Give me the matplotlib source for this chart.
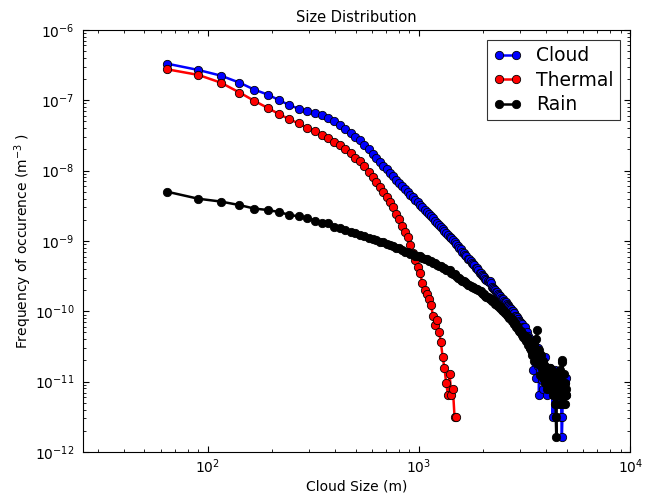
import matplotlib
matplotlib.use('Agg')
import matplotlib.pyplot as plt
import numpy as np

# bin centres of cloud size (m)
sizes = [
    64, 90, 115, 141, 166,
    192, 218, 243, 269, 294,
    320, 346, 371, 397, 422,
    448, 474, 499, 525, 550,
    576, 602, 627, 653, 678,
    704, 730, 755, 781, 806,
    832, 858, 883, 909, 934,
    960, 986, 1011, 1037, 1062,
    1088, 1114, 1139, 1165, 1190,
    1216, 1242, 1267, 1293, 1318,
    1344, 1370, 1395, 1421, 1446,
    1472, 1498, 1523, 1549, 1574,
    1600, 1626, 1651, 1677, 1702,
    1728, 1754, 1779, 1805, 1830,
    1856, 1882, 1907, 1933, 1958,
    1984, 2010, 2035, 2061, 2086,
    2112, 2138, 2163, 2189, 2214,
    2240, 2266, 2291, 2317, 2342,
    2368, 2394, 2419, 2445, 2470,
    2496, 2522, 2547, 2573, 2598,
    2624, 2650, 2675, 2701, 2726,
    2752, 2778, 2803, 2829, 2854,
    2880, 2906, 2931, 2957, 2982,
    3008, 3034, 3059, 3085, 3110,
    3136, 3162, 3187, 3213, 3238,
    3264, 3290, 3315, 3341, 3366,
    3392, 3418, 3443, 3469, 3494,
    3520, 3546, 3571, 3597, 3622,
    3648, 3674, 3699, 3725, 3750,
    3776, 3802, 3827, 3853, 3878,
    3904, 3930, 3955, 3981, 4006,
    4032, 4058, 4083, 4109, 4134,
    4160, 4186, 4211, 4237, 4262,
    4288, 4314, 4339, 4365, 4390,
    4416, 4442, 4467, 4493, 4518,
    4544, 4570, 4595, 4621, 4646,
    4672, 4698, 4723, 4749, 4774,
    4800, 4826, 4851, 4877, 4902,
    4928, 4954, 4979,
]

# log10 of frequency of occurence (m^-3)
cloud_exp = [
    -6.48, -6.57, -6.65, -6.75, -6.85,
    -6.92, -7.00, -7.07, -7.12, -7.15,
    -7.18, -7.21, -7.25, -7.29, -7.35,
    -7.41, -7.46, -7.52, -7.57, -7.64,
    -7.70, -7.76, -7.82, -7.88, -7.93,
    -7.98, -8.03, -8.08, -8.13, -8.17,
    -8.22, -8.26, -8.30, -8.34, -8.38,
    -8.42, -8.45, -8.49, -8.52, -8.56,
    -8.59, -8.62, -8.65, -8.68, -8.71,
    -8.74, -8.77, -8.80, -8.83, -8.86,
    -8.88, -8.91, -8.94, -8.96, -8.99,
    -9.02, -9.04, -9.07, -9.10, -9.12,
    -9.15, -9.17, -9.20, -9.21, -9.25,
    -9.26, -9.28, -9.32, -9.33, -9.34,
    -9.38, -9.39, -9.42, -9.45, -9.45,
    -9.48, -9.50, -9.51, -9.54, -9.56,
    -9.57, -9.59, -9.57, -9.60, -9.65,
    -9.67, -9.68, -9.70, -9.72, -9.73,
    -9.76, -9.77, -9.78, -9.81, -9.82,
    -9.83, -9.85, -9.87, -9.87, -9.90,
    -9.91, -9.93, -9.94, -9.96, -9.97,
    -9.99, -10.00, -10.03, -10.03, -10.06,
    -10.07, -10.08, -10.11, -10.11, -10.14,
    -10.15, -10.16, -10.19, -10.18, -10.22,
    -10.23, -10.27, -10.22, -10.33, -10.30,
    -10.38, -10.35, -10.45, -10.40, -10.52,
    -10.43, -10.58, -10.47, -10.83, -10.55,
    -10.62, -10.50, -10.95, -10.66, -10.60,
    -10.78, -10.52, -11.19, -10.72, -10.85,
    -10.65, -10.98, -10.80, -10.72, -11.10,
    -10.84, -10.90, -10.65, -11.02, -10.89,
    -10.80, -11.19, -10.95, -10.84, -11.10,
    -10.93, -10.80, -11.02, -11.10, -10.89,
    -11.50, -11.02, -10.95, -11.19, -10.84,
    -11.10, -11.50, -11.02, -10.95, -11.19,
    -11.10, -10.89, -11.32, -11.02, -11.19,
    -10.95, -11.10, -11.50, -11.79, -11.50,
    -10.95, -11.19, -11.10, -11.32, -11.02,
    -11.19, -10.95, -11.19,
]

thermal_exp = [
    -6.56, -6.64, -6.75, -6.89, -7.01,
    -7.11, -7.20, -7.27, -7.33, -7.39,
    -7.44, -7.49, -7.54, -7.59, -7.64,
    -7.70, -7.75, -7.82, -7.87, -7.94,
    -8.02, -8.09, -8.16, -8.23, -8.30,
    -8.37, -8.44, -8.52, -8.61, -8.69,
    -8.79, -8.87, -8.94, -9.06, -9.17,
    -9.27, -9.37, -9.46, -9.60, -9.70,
    -9.75, -9.83, -9.91, -10.07, -10.19,
    -10.12, -10.29, -10.43, -10.65, -10.80,
    -11.02, -11.19, -10.89, -11.19, -11.10,
    -11.50, -11.50,
]

rain_exp = [
    -8.30, -8.40, -8.44, -8.49, -8.54,
    -8.56, -8.59, -8.63, -8.65, -8.67,
    -8.71, -8.75, -8.74, -8.80, -8.81,
    -8.85, -8.87, -8.89, -8.92, -8.93,
    -8.96, -8.97, -8.99, -9.01, -9.02,
    -9.04, -9.06, -9.07, -9.10, -9.10,
    -9.13, -9.15, -9.16, -9.18, -9.18,
    -9.21, -9.22, -9.22, -9.24, -9.26,
    -9.26, -9.28, -9.29, -9.31, -9.31,
    -9.34, -9.35, -9.36, -9.38, -9.38,
    -9.41, -9.42, -9.42, -9.45, -9.47,
    -9.47, -9.50, -9.52, -9.53, -9.56,
    -9.57, -9.57, -9.59, -9.60, -9.62,
    -9.62, -9.64, -9.65, -9.65, -9.67,
    -9.68, -9.68, -9.70, -9.71, -9.71,
    -9.74, -9.75, -9.75, -9.78, -9.79,
    -9.79, -9.81, -9.83, -9.82, -9.85,
    -9.86, -9.86, -9.89, -9.89, -9.91,
    -9.92, -9.92, -9.96, -9.96, -9.98,
    -9.99, -9.99, -10.03, -10.02, -10.05,
    -10.06, -10.06, -10.09, -10.10, -10.10,
    -10.14, -10.13, -10.17, -10.18, -10.17,
    -10.22, -10.21, -10.25, -10.24, -10.28,
    -10.29, -10.28, -10.33, -10.32, -10.37,
    -10.33, -10.39, -10.36, -10.42, -10.37,
    -10.48, -10.40, -10.45, -10.52, -10.43,
    -10.55, -10.48, -10.62, -10.50, -10.58,
    -10.70, -10.52, -10.65, -10.40, -10.27,
    -10.60, -10.75, -10.55, -10.68, -10.90,
    -10.62, -10.80, -10.72, -10.95, -10.70,
    -10.85, -10.78, -11.02, -10.80, -10.95,
    -10.89, -11.10, -10.84, -10.95, -11.02,
    -10.80, -11.10, -10.95, -11.02, -10.84,
    -11.19, -10.95, -11.10, -10.89, -11.32,
    -11.02, -11.50, -11.79, -11.19, -10.95,
    -11.10, -10.89, -11.02, -11.19, -10.84,
    -10.95, -11.10, -11.32, -10.72, -10.69,
    -11.02, -11.19, -10.89, -11.10, -11.32,
    -11.02, -11.19, -11.10,
]

x_ticks = [1e2, 1e3, 1e4]


def main():
    plt.rcParams['font.family'] = 'DejaVu Sans'
    plt.rcParams['font.size'] = 10
    plt.rcParams['xtick.direction'] = 'in'
    plt.rcParams['ytick.direction'] = 'in'
    plt.rcParams['xtick.top'] = True
    plt.rcParams['ytick.right'] = True
    plt.rcParams['xtick.major.size'] = 4
    plt.rcParams['ytick.major.size'] = 4
    plt.rcParams['xtick.minor.size'] = 2
    plt.rcParams['ytick.minor.size'] = 2
    plt.rcParams['xtick.major.pad'] = 4
    plt.rcParams['ytick.major.pad'] = 6

    fig = plt.figure(figsize=(6.49, 4.94), dpi=100, facecolor='white')
    ax = fig.add_axes([0.128, 0.085, 0.843, 0.8545])

    x = np.array(sizes, dtype=float)
    series = [
        ('Cloud', cloud_exp, '#0000ff'),
        ('Thermal', thermal_exp, '#ff0000'),
        ('Rain', rain_exp, '#000000'),
    ]
    for name, exps, col in series:
        y = 10.0 ** np.array(exps)
        ax.plot(x[:len(y)], y, '-o', color=col, lw=1.8, ms=6,
                mfc=col, mec='black', mew=0.6, label=name)

    ax.set_xscale('log')
    ax.set_yscale('log')
    ax.set_xlim(25.6, 1e4)
    ax.set_ylim(1e-12, 1e-6)
    ax.set_xticks(x_ticks)
    ax.set_xlabel('Cloud Size (m)')
    ax.set_ylabel('Frequency of occurence (m$^{-3}$ )')
    ax.xaxis.set_label_coords(0.5, -0.064)
    ax.yaxis.set_label_coords(-0.09, 0.5)
    ax.set_title('Size Distribution', fontsize=10.5)

    leg = ax.legend(loc='upper right', numpoints=2, fontsize=13.5,
                    fancybox=False, handlelength=1.5, borderaxespad=0.55,
                    labelspacing=0.3, handletextpad=0.8, borderpad=0.32)
    leg.get_frame().set_edgecolor('black')
    leg.get_frame().set_linewidth(0.8)

    fig.savefig('out.png', dpi=100, facecolor='white')


if __name__ == '__main__':
    main()
